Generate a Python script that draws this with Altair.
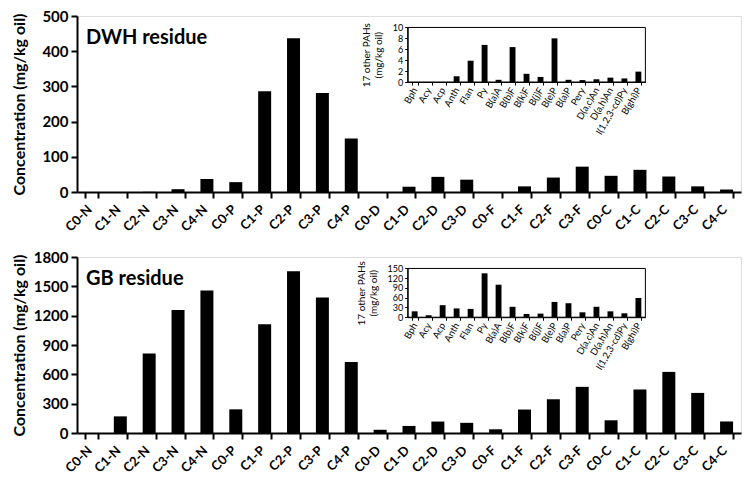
import altair as alt
import pandas as pd

# ---------------- data ----------------
categories = ["C0-N", "C1-N", "C2-N", "C3-N", "C4-N", "C0-P", "C1-P", "C2-P", "C3-P", "C4-P",
              "C0-D", "C1-D", "C2-D", "C3-D", "C0-F", "C1-F", "C2-F", "C3-F",
              "C0-C", "C1-C", "C2-C", "C3-C", "C4-C"]
dwh_values = [0, 0, 0.5, 8, 37, 28, 286, 437, 281, 152,
              0, 15, 43, 35, 0, 16, 41, 72,
              46, 63, 44, 16, 7]
gb_values = [0, 170, 814, 1258, 1458, 242, 1111, 1654, 1385, 725,
             33, 72, 117, 104, 38, 240, 345, 472,
             130, 445, 625, 410, 118]

other_pahs = ["Bph", "Acy", "Acp", "Anth", "Flan", "Py", "B(a)A", "B(b)F", "B(k)F", "B(j)F",
              "B(e)P", "B(a)P", "Pery", "D(a,c)An", "D(a,h)An", "I(1,2,3-cd)Py", "B(ghi)P"]
dwh_other = [0, 0, 0, 1.05, 3.9, 6.8, 0.4, 6.4, 1.5, 0.93, 8.0, 0.4, 0.35, 0.5, 0.8, 0.65, 1.9]
gb_other = [18, 6, 37, 27, 25.5, 135, 100, 32, 10, 11, 47, 43, 15, 32, 18, 12, 59]

dwh_ticks = [0, 100, 200, 300, 400, 500]
gb_ticks = [0, 300, 600, 900, 1200, 1500, 1800]
dwh_inset_ticks = [0, 2, 4, 6, 8, 10]
gb_inset_ticks = [0, 30, 60, 90, 120, 150]

FONT = "Lato"
W, H = 664, 176


def panel(values, other, name, ticks, inset_ticks, inset_bottom_frac):
    df = pd.DataFrame({"cat": categories, "val": values})
    di = pd.DataFrame({"pah": other_pahs, "val": other})

    main = alt.Chart(df).mark_bar(color="black").encode(
        x=alt.X("cat:N", sort=categories,
                scale=alt.Scale(paddingInner=0.55, paddingOuter=0.275),
                axis=alt.Axis(title=None, labelAngle=-45, labelAlign="right",
                              labelBaseline="middle", labelFont=FONT, labelFontWeight="bold",
                              labelFontSize=13, labelColor="black", tickBand="extent",
                              domainWidth=2, domainColor="black", tickColor="black",
                              tickWidth=2, tickSize=6, labelPadding=9, labelOffset=-2,
                              grid=False)),
        y=alt.Y("val:Q", scale=alt.Scale(domain=[ticks[0], ticks[-1]], nice=False),
                axis=alt.Axis(values=ticks, format="d", title="Concentration (mg/kg oil)",
                              titleFont=FONT, titleFontWeight="bold", titleFontSize=16,
                              titleColor="black", titlePadding=6,
                              labelFont=FONT, labelFontWeight="bold", labelFontSize=15,
                              labelColor="black", domainWidth=2, domainColor="black",
                              tickColor="black", tickWidth=2, tickSize=6, labelPadding=3,
                              grid=False, minExtent=44)),
    )

    x0, x1 = 0.498 * W, 0.856 * W
    yt, yb = 0.065 * H, inset_bottom_frac * H

    inset = alt.Chart(di).mark_bar(color="black").encode(
        x=alt.X("pah:N", sort=other_pahs,
                scale=alt.Scale(range=[x0, x1], paddingInner=0.58, paddingOuter=0.29),
                axis=alt.Axis(orient="bottom", offset=yb - H, title=None, labelAngle=-60,
                              labelAlign="right", labelBaseline="middle", labelFont=FONT,
                              labelFontSize=9.5, labelColor="black", tickBand="extent",
                              domainColor="black", domainWidth=1, tickColor="black",
                              tickSize=3, labelPadding=3, grid=False)),
        y=alt.Y("val:Q",
                scale=alt.Scale(domain=[inset_ticks[0], inset_ticks[-1]], range=[yb, yt], nice=False),
                axis=alt.Axis(orient="left", offset=-x0, values=inset_ticks, format="d",
                              labelOverlap=False,
                              title=["17 other PAHs", "(mg/kg oil)"], titleFont=FONT,
                              titleFontWeight="normal", titleFontSize=10, titleColor="black",
                              titlePadding=9, labelFont=FONT, labelFontSize=9,
                              labelColor="black", domainColor="black", tickColor="black",
                              tickSize=3, labelPadding=2, grid=False)),
    )

    frame = alt.Chart(pd.DataFrame({"k": [0]})).mark_rect(
        fill=None, stroke="black", strokeWidth=1
    ).encode(x=alt.value(x0), x2=alt.value(x1), y=alt.value(yt), y2=alt.value(yb))

    label = alt.Chart(pd.DataFrame({"t": [name]})).mark_text(
        align="left", baseline="middle", font=FONT, fontWeight="bold", fontSize=20, color="black"
    ).encode(text="t:N", x=alt.value(9), y=alt.value(22))

    return alt.layer(main, inset, frame, label).resolve_scale(
        x="independent", y="independent"
    ).properties(width=W, height=H)


top = panel(dwh_values, dwh_other, "DWH residue", dwh_ticks, dwh_inset_ticks, 0.375)
bottom = panel(gb_values, gb_other, "GB residue", gb_ticks, gb_inset_ticks, 0.342)

chart = alt.vconcat(top, bottom, spacing=14).properties(
    padding={"left": 2, "top": 0, "right": 0, "bottom": 0}
).configure_view(stroke="black", strokeWidth=2).configure(background="white")

chart.save("out.html", embed_options={"renderer": "svg", "actions": False})
